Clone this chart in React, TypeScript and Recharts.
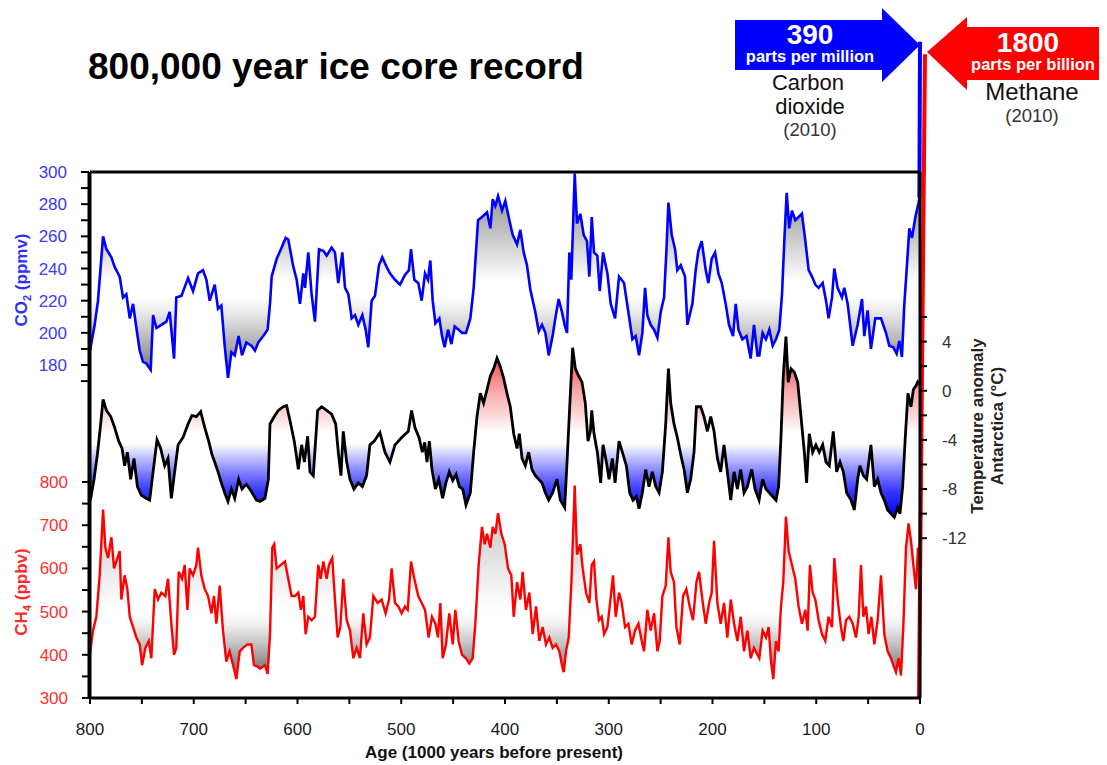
import { ComposedChart, Area, XAxis, YAxis, ReferenceLine } from 'recharts';

// [age in kyr before present, value]
const co2Record: [number, number][] = [
  [800, 189], [795.5, 205], [792.3, 220], [787.4, 260], [784.2, 252], [779.4, 247], [776.2, 241], [771.4, 235],
  [768.2, 222], [765, 224], [761.7, 209], [758.5, 218], [755.3, 203], [752.1, 189], [748.9, 182], [745.7, 181],
  [741.5, 177], [739.2, 211], [736, 203], [731.2, 205], [726.4, 207], [723.2, 213], [719, 184], [716.8, 222],
  [711.9, 223], [705.5, 234], [700.7, 226], [695.9, 237], [691.1, 239], [687.8, 233], [684.6, 220], [679.8, 230],
  [676.6, 215], [673.4, 217], [670.2, 192], [667, 172], [663.7, 188], [660.5, 186], [656.7, 198], [653.5, 186],
  [649.3, 194], [644.5, 192], [641, 189], [637.8, 194], [633, 198], [628.8, 202], [626.5, 218], [624.9, 235],
  [620.1, 246], [616, 252], [611.4, 259], [608.9, 258], [604, 241], [600.8, 233], [597.6, 218], [594.4, 237],
  [592.8, 228], [589.6, 250], [586.4, 224], [583.2, 207], [579.3, 252], [575.1, 251], [571.9, 248], [567.1, 253],
  [563.9, 250], [560.7, 231], [556.8, 250], [554.2, 228], [551, 224], [547.8, 209], [544.6, 211], [541.4, 205],
  [537.5, 211], [534.3, 202], [531.8, 191], [528.5, 220], [525.3, 223], [521.5, 242], [518.3, 247], [514.1, 241],
  [510.9, 237], [506, 233], [501.2, 230], [496.4, 236], [492.6, 239], [490.6, 252], [487.4, 233], [483.6, 231],
  [480.3, 220], [477.1, 237], [474.2, 233], [472, 245], [469.7, 220], [467.1, 206], [463.3, 209], [460.7, 198],
  [458.2, 191], [454.9, 202], [451.7, 193], [448.5, 204], [444.7, 202], [441.4, 200], [437.6, 200], [433.4, 209],
  [430.2, 228], [428, 250], [426, 270], [422.2, 272], [417.3, 275], [414.1, 265], [411.9, 283], [409.3, 279],
  [406.7, 285], [402.9, 276], [399.7, 282], [395.8, 270], [392.6, 261], [388.4, 255], [385.2, 264], [382, 250],
  [378.8, 242], [375.6, 227], [370.8, 213], [367.5, 201], [364.3, 205], [361.1, 200], [357.9, 186], [354.1, 198],
  [351.5, 209], [348.3, 221], [345.1, 213], [342.5, 205], [340.2, 200], [338, 250], [336.1, 233], [332.8, 299],
  [330.6, 268], [327.4, 274], [324.2, 261], [321, 257], [318.7, 235], [316.4, 272], [314.2, 250], [311, 248],
  [308.7, 226], [305.5, 250], [301.3, 237], [298.1, 218], [293.9, 209], [290.1, 235], [285.3, 231], [281.1, 213],
  [277.2, 196], [274, 198], [270.8, 186], [267.6, 200], [265, 228], [262.8, 211], [259.6, 205], [256.3, 202],
  [253.1, 197], [249.9, 213], [246.7, 222], [244.5, 250], [242.5, 281], [239.3, 261], [236.1, 252], [233.9, 239],
  [230.6, 242], [226.5, 235], [224.2, 205], [219.4, 218], [216.2, 239], [213.6, 251], [210.4, 257], [206.5, 239],
  [204, 231], [200.8, 246], [197.5, 250], [194.3, 237], [191.1, 231], [187.3, 218], [184.1, 205], [180.2, 198],
  [177.6, 218], [175, 202], [171.2, 196], [167.3, 198], [163.2, 184], [160, 205], [156.7, 186], [154.9, 186],
  [151.7, 200], [148.5, 196], [145.2, 202], [142, 192], [138.8, 196], [135.6, 202], [133, 224], [130.8, 257],
  [128.5, 287], [126, 265], [123.4, 276], [120.2, 270], [117, 272], [113.8, 274], [110.5, 257], [107.3, 239],
  [104.1, 235], [100.9, 230], [97.7, 228], [93.8, 231], [90.6, 220], [88.1, 209], [84.8, 222], [82.6, 240],
  [79.4, 228], [75.2, 222], [73, 228], [69.7, 218], [64.9, 192], [60.1, 205], [55.9, 221], [53.7, 198],
  [50.5, 214], [47.3, 190], [43.1, 209], [37.6, 209], [32.8, 200], [29.6, 192], [25.7, 191], [22.5, 187],
  [19.9, 195], [17.4, 185], [15.1, 218], [12.9, 239], [10.3, 265], [7.7, 259], [4.5, 272], [1.3, 281], [0.6, 284],
];

const tempRecord: [number, number][] = [
  [800, -8.9], [799.3, -8.75], [796.1, -7.2], [792.9, -5.2], [789.7, -2.7], [787.4, -0.7], [784.2, -1.6], [780, -2.1],
  [776.2, -3.0], [772.3, -4.1], [769.1, -4.7], [766.6, -6.1], [764, -5.0], [760.8, -7.2], [757.6, -5.5], [754.3, -7.8],
  [750.5, -8.5], [745.7, -8.75], [742.5, -8.9], [739.2, -6.6], [735.4, -4.0], [731.9, -4.7], [728, -6.1], [724.8, -5.5],
  [721.6, -8.75], [718.4, -6.6], [715.1, -4.4], [710.3, -3.8], [705.5, -2.7], [701.7, -2.0], [697.5, -2.1], [693.3, -1.7],
  [689.4, -3.0], [685.6, -4.1], [682.4, -5.2], [679.8, -5.8], [676.6, -6.6], [673.4, -7.5], [670.2, -8.3], [667, -9.0],
  [663.7, -8.0], [660.5, -8.75], [656.7, -7.2], [653.5, -8.0], [649.3, -7.6], [644.5, -8.2], [639.6, -8.9], [636.2, -9.0],
  [631.4, -8.75], [628.1, -7.2], [626.5, -2.7], [622.4, -2.1], [618.5, -1.6], [613.7, -1.3], [610.5, -1.2], [607.3, -2.4],
  [603.1, -4.1], [599.2, -6.4], [596, -4.4], [593.4, -5.8], [590.2, -3.7], [588, -6.6], [584.8, -6.9], [580.6, -1.6],
  [576.7, -1.3], [571.9, -1.6], [567.1, -1.9], [563.2, -2.7], [560.7, -5.0], [558.1, -6.9], [555.9, -3.3], [552.6, -5.8],
  [549.4, -7.2], [545.6, -8.0], [541.4, -7.5], [537.5, -7.8], [533.4, -6.9], [530.2, -4.4], [526, -4.1], [520.5, -3.4],
  [515.7, -5.0], [510.9, -5.8], [506, -4.4], [499.6, -3.8], [493.2, -3.3], [490, -1.6], [486.8, -3.0], [482.9, -3.8],
  [479.7, -5.0], [477.4, -4.2], [475.2, -5.8], [472.9, -4.1], [470.4, -6.4], [467.1, -8.0], [463.9, -7.2], [460.1, -8.75],
  [456.9, -7.5], [453.7, -6.6], [450.4, -7.3], [447.2, -6.8], [444, -7.8], [440.8, -8.0], [437.6, -9.3], [433.4, -8.3],
  [430.2, -5.0], [427, -2.1], [423.8, -0.2], [420.6, -1.0], [417.3, 0.1], [414.1, 1.2], [410.9, 1.8], [407.7, 2.65],
  [404.5, 1.95], [401.3, 1.0], [398.1, -0.2], [394.9, -1.3], [391.6, -3.5], [388.4, -4.7], [386.2, -3.5], [383.6, -5.5],
  [380.4, -6.1], [377.2, -5.0], [374, -6.4], [370.8, -6.9], [367.5, -7.2], [364.3, -7.5], [361.1, -8.3], [357.9, -8.9],
  [354.1, -8.3], [349.9, -7.2], [346.7, -8.9], [342.5, -9.5], [340.2, -5.8], [337, -0.2], [334.8, 3.5], [332.2, 1.8],
  [329, 1.2], [325.8, 0.7], [322.6, -1.0], [320, -4.1], [317.7, -3.3], [316.4, -1.6], [314.2, -3.5], [311, -5.0],
  [307.8, -7.5], [305.5, -4.4], [302.3, -5.8], [299.7, -7.2], [296.5, -5.5], [293.9, -7.5], [290.1, -4.1], [286.9, -5.0],
  [283, -6.1], [279.8, -8.3], [276.6, -8.9], [273.4, -8.6], [270.8, -9.6], [267.6, -8.3], [264.4, -6.4], [261.2, -7.8],
  [258, -6.6], [254.7, -7.8], [251.5, -8.3], [248.3, -6.6], [245.1, -2.7], [242.5, 1.8], [240.3, -1.0], [237.1, -2.7],
  [233.9, -3.8], [230.6, -5.2], [227.4, -6.4], [224.2, -8.3], [221, -7.2], [217.8, -5.0], [215.5, -1.3], [211.4, -1.3],
  [208.2, -2.1], [204.9, -3.3], [201.7, -2.1], [198.5, -3.3], [195.3, -5.5], [192.1, -6.6], [188.9, -4.4], [185.7, -6.6],
  [182.4, -8.9], [179.2, -6.6], [176, -8.0], [172.8, -6.4], [169.6, -8.3], [166.4, -7.8], [162.2, -6.4], [159, -8.0],
  [155.1, -8.9], [151.7, -7.2], [148.5, -8.0], [145.2, -8.3], [142, -8.6], [138.8, -8.9], [136.3, -7.8], [134, -3.8],
  [131.8, 1.2], [129.2, 4.4], [127, 0.7], [124.4, 1.8], [121.1, 1.5], [117.9, 0.7], [114.7, -2.1], [111.5, -5.0],
  [109.3, -7.5], [106.7, -3.5], [103.5, -5.0], [100.3, -4.4], [97.1, -5.0], [93.8, -4.4], [90.6, -5.8], [87.4, -6.1],
  [83.6, -3.3], [80.3, -6.6], [77.1, -5.8], [73.9, -6.6], [70.7, -8.3], [66.5, -8.9], [63.3, -9.7], [60.1, -7.2],
  [57.9, -6.1], [54.6, -6.9], [51.4, -7.2], [47.3, -4.4], [44, -7.8], [40.8, -7.2], [37.6, -8.3], [34.4, -8.9],
  [31.2, -9.7], [28, -10.0], [24.8, -10.3], [21.5, -9.5], [19.3, -10.0], [16.7, -7.8], [14.2, -3.8], [11.6, -0.2],
  [8.7, -1.3], [6.4, 0.1], [3.9, 0.4], [2.3, 0.7], [1.0, 0.5],
];

const ch4Record: [number, number][] = [
  [800, 400], [799.3, 416], [797.1, 456], [793.9, 488], [790.7, 584], [787.4, 736], [785.2, 648], [782.6, 624],
  [779.4, 672], [776.8, 600], [774.6, 616], [771.4, 640], [769.8, 528], [766.6, 584], [764, 552], [761.7, 488],
  [758.5, 464], [755.3, 440], [752.1, 424], [749.8, 376], [746.6, 416], [743.4, 432], [740.9, 392], [737.6, 552],
  [734.4, 528], [731.2, 544], [727.4, 536], [724.8, 576], [721.6, 472], [719, 400], [716.8, 416], [714.5, 592],
  [711.3, 576], [708.7, 608], [706.1, 504], [703.9, 600], [700.7, 584], [697.5, 608], [695.9, 648], [692.7, 584],
  [689.4, 552], [686.2, 536], [683, 496], [680.5, 536], [678.2, 472], [675, 560], [671.8, 456], [668.6, 384],
  [665.4, 408], [662.1, 376], [658.9, 344], [655.7, 408], [652.5, 416], [648.3, 424], [644.5, 424], [641.9, 376],
  [638, 372], [636.2, 368], [631.4, 376], [628.8, 356], [626.5, 448], [624.3, 648], [622.4, 656], [620.1, 600],
  [616, 608], [612.1, 616], [608.9, 576], [605.7, 536], [602.4, 536], [599.2, 544], [596.7, 504], [594.4, 536],
  [592.2, 448], [589.6, 488], [586.4, 480], [583.2, 488], [580, 608], [577.7, 576], [575.1, 616], [571.9, 576],
  [569.7, 608], [566.5, 624], [563.9, 528], [561.3, 440], [558.7, 464], [555.9, 576], [552.6, 480], [549.4, 456],
  [546.2, 392], [543, 416], [539.8, 392], [536.6, 496], [533.4, 424], [530.2, 440], [526.9, 536], [522.8, 520],
  [518.9, 528], [515.1, 496], [511.8, 528], [509.3, 600], [506, 520], [502.8, 512], [499.6, 496], [496.4, 512],
  [493.8, 504], [490.6, 616], [487.4, 576], [483.6, 536], [480.3, 520], [477.1, 504], [473.6, 440], [470.4, 488],
  [467.1, 472], [464.6, 440], [462.3, 520], [460.1, 392], [456.9, 424], [453.7, 496], [450.4, 424], [447.9, 504],
  [444.7, 432], [441.4, 400], [437.6, 392], [434.4, 380], [431.2, 392], [428.6, 472], [425.4, 608], [422.2, 696],
  [419.6, 656], [417.3, 680], [414.1, 648], [411.9, 696], [409.3, 680], [406.7, 728], [403.5, 680], [400.3, 656],
  [397.1, 600], [393.9, 584], [391.6, 488], [388.4, 568], [385.2, 528], [383, 592], [379.8, 504], [376.5, 544],
  [373.3, 448], [370.1, 512], [366.9, 432], [363.7, 464], [360.5, 424], [357.3, 440], [354.1, 416], [350.8, 424],
  [347.6, 408], [345.1, 376], [343.4, 360], [341.2, 408], [338.6, 440], [336, 568], [332.8, 792], [330.6, 632],
  [327.4, 656], [325.1, 600], [321.9, 544], [318.7, 520], [316.4, 608], [314.2, 616], [311.9, 528], [309.4, 480],
  [306.8, 488], [304.5, 448], [301.3, 464], [299.1, 512], [295.9, 584], [293.3, 488], [290.1, 544], [287.5, 520],
  [284.3, 464], [281.1, 472], [277.9, 424], [274.7, 456], [271.4, 472], [268.2, 432], [266, 408], [262.8, 504],
  [259.6, 456], [256.3, 496], [253.1, 408], [250.9, 432], [248.3, 536], [245.1, 560], [242.5, 672], [240.3, 592],
  [237.1, 568], [234.8, 464], [231.6, 424], [228.4, 536], [225.2, 552], [222, 512], [218.8, 480], [215.5, 568],
  [213, 592], [209.8, 528], [206.5, 472], [203.3, 520], [200.8, 544], [198.5, 664], [195.3, 520], [192.1, 472],
  [188.9, 520], [185.7, 440], [182.4, 528], [179.2, 472], [176, 432], [172.8, 488], [169.6, 408], [166.4, 456],
  [163.2, 392], [160, 416], [156.7, 400], [154.9, 392], [151.7, 456], [148.5, 440], [145.9, 464], [143.6, 384],
  [141.4, 344], [138.8, 432], [136.3, 408], [134, 512], [131.8, 568], [129.2, 720], [126.6, 640], [123.4, 608],
  [120.2, 576], [117, 512], [113.8, 472], [110.5, 504], [108.3, 456], [106.1, 608], [103.5, 544], [100.9, 528],
  [97.7, 480], [94.5, 448], [91.3, 432], [88.1, 488], [84.8, 464], [82.6, 624], [79.4, 528], [76.2, 464],
  [73.9, 432], [71.3, 480], [68.1, 488], [64.9, 472], [61.7, 440], [59.1, 488], [56.9, 608], [54.6, 488],
  [52.1, 512], [49.5, 448], [46.9, 488], [44, 424], [40.8, 480], [37.6, 584], [34.4, 448], [31.2, 408],
  [28, 392], [25.7, 376], [23.2, 360], [20.6, 392], [18.3, 352], [16.1, 464], [13.5, 648], [11, 704],
  [8.7, 664], [6.4, 608], [3.9, 552], [1.9, 648],
];

// modern rise up to the 2010 arrows
const co2Modern: [number, number][] = [[0.6, 284], [0, 381]];
const ch4Modern: [number, number][] = [[1, 300], [-4.8, 1790]];

const ageTicks = [0, 50, 100, 150, 200, 250, 300, 350, 400, 450, 500, 550, 600, 650, 700, 750, 800];
const ageLabels = [0, 100, 200, 300, 400, 500, 600, 700, 800];
const co2Ticks = [170, 180, 190, 200, 210, 220, 230, 240, 250, 260, 270, 280, 290, 300];
const co2Labels = [180, 200, 220, 240, 260, 280, 300];
const ch4Ticks = [300, 350, 400, 450, 500, 550, 600, 650, 700, 750, 800];
const ch4Labels = [300, 400, 500, 600, 700, 800];
const tempTicks = [-12, -10, -8, -6, -4, -2, 0, 2, 4, 6];
const tempLabels = [-12, -8, -4, 0, 4];

const co2Base = 228;
const tempBase = -4;
const ch4Base = 500;

const co2Shade: [number, string][] = [
  [300, '#8a8a8a'], [280, '#a2a2a2'], [260, '#c6c6c6'], [242, '#ebebeb'], [232, '#ffffff'],
  [222, '#ffffff'], [210, '#e2e2e2'], [195, '#b4b4b4'], [180, '#858585'], [170, '#6c6c6c'],
];
const tempShade: [number, string][] = [
  [4.5, '#ff2b2b'], [2, '#f46464'], [0, '#f8a8a8'], [-2, '#fcd8d8'], [-3.4, '#ffffff'],
  [-4.3, '#ffffff'], [-5.3, '#c8c8ff'], [-6.8, '#7878ff'], [-8.2, '#3535ff'], [-10.5, '#0000f0'],
];
const ch4Shade: [number, string][] = [
  [800, '#b8b8b8'], [700, '#cdcdcd'], [600, '#e8e8e8'], [520, '#fcfcfc'], [500, '#ffffff'],
  [470, '#f0f0f0'], [430, '#c8c8c8'], [390, '#989898'], [345, '#5c5c5c'],
];

const FONT = '"Liberation Sans", Arial, Helvetica, sans-serif';

const rows = (rec: [number, number][]) => rec.map(([age, v]) => ({ age, v }));

function Shade({ id, rec, base, stops }: { id: string; rec: [number, number][]; base: number; stops: [number, string][] }) {
  const vals = rec.map((r) => r[1]).concat(base);
  const hi = Math.max(...vals);
  const lo = Math.min(...vals);
  return (
    <linearGradient id={id} x1="0" y1="0" x2="0" y2="1">
      {stops.map(([v, c]) => (
        <stop key={v} offset={Math.min(1, Math.max(0, (hi - v) / (hi - lo)))} stopColor={c} />
      ))}
    </linearGradient>
  );
}

const axisLine = { stroke: '#000', strokeWidth: 3 };
const tickLine = { stroke: '#000', strokeWidth: 2 };

export default function App() {
  return (
    <div style={{ position: 'relative', width: 1091, height: 757 }}>
      <ComposedChart width={1091} height={749} margin={{ top: 163, right: 178, bottom: 29, left: 80 }}>
        <defs>
          <Shade id="co2Fill" rec={co2Record} base={co2Base} stops={co2Shade} />
          <Shade id="tempFill" rec={tempRecord} base={tempBase} stops={tempShade} />
          <Shade id="ch4Fill" rec={ch4Record} base={ch4Base} stops={ch4Shade} />
        </defs>
        <XAxis
          xAxisId="age"
          dataKey="age"
          type="number"
          domain={[0, 800]}
          reversed
          ticks={ageTicks}
          tickFormatter={(v: number) => (ageLabels.includes(v) ? String(v) : '')}
          tickSize={6}
          tickMargin={19}
          height={30}
          axisLine={axisLine}
          tickLine={tickLine}
          tick={{ fill: '#1a1a1a', fontSize: 17, fontFamily: FONT }}
        />
        <XAxis
          xAxisId="top"
          orientation="top"
          type="number"
          domain={[0, 800]}
          reversed
          ticks={ageTicks}
          tickFormatter={() => ''}
          tickSize={6}
          height={1}
          axisLine={axisLine}
          tickLine={tickLine}
        />
        <YAxis
          yAxisId="co2"
          orientation="left"
          type="number"
          domain={[-27, 300]}
          ticks={co2Ticks}
          tickFormatter={(v: number) => (co2Labels.includes(v) ? String(v) : '')}
          width={1}
          tickSize={8}
          tickMargin={14}
          axisLine={axisLine}
          tickLine={tickLine}
          tick={{ fill: '#3a3aff', fontSize: 17, fontFamily: FONT }}
        />
        <YAxis
          yAxisId="ch4"
          orientation="left"
          type="number"
          domain={[300, 1517.6]}
          ticks={ch4Ticks}
          tickFormatter={(v: number) => (ch4Labels.includes(v) ? String(v) : '')}
          width={1}
          tickSize={8}
          tickMargin={14}
          axisLine={axisLine}
          tickLine={tickLine}
          tick={{ fill: '#ff3030', fontSize: 17, fontFamily: FONT }}
        />
        <YAxis
          yAxisId="temp"
          orientation="right"
          type="number"
          domain={[-25, 17.8]}
          ticks={tempTicks}
          tickFormatter={(v: number) => (tempLabels.includes(v) ? String(v) : '')}
          width={1}
          tickSize={7}
          tickMargin={15}
          axisLine={axisLine}
          tickLine={tickLine}
          tick={{ fill: '#333', fontSize: 17, fontFamily: FONT }}
        />

        <Area
          data={rows(co2Record)}
          xAxisId="age"
          yAxisId="co2"
          dataKey="v"
          type="linear"
          baseValue={co2Base}
          stroke="#0000ff"
          strokeWidth={2.6}
          fill="url(#co2Fill)"
          fillOpacity={1}
          dot={false}
          activeDot={false}
          isAnimationActive={false}
        />
        <Area
          data={rows(tempRecord)}
          xAxisId="age"
          yAxisId="temp"
          dataKey="v"
          type="linear"
          baseValue={tempBase}
          stroke="#000"
          strokeWidth={2.8}
          fill="url(#tempFill)"
          fillOpacity={1}
          dot={false}
          activeDot={false}
          isAnimationActive={false}
        />
        <Area
          data={rows(ch4Record)}
          xAxisId="age"
          yAxisId="ch4"
          dataKey="v"
          type="linear"
          baseValue={ch4Base}
          stroke="#ff0000"
          strokeWidth={2.4}
          fill="url(#ch4Fill)"
          fillOpacity={1}
          dot={false}
          activeDot={false}
          isAnimationActive={false}
        />
        <ReferenceLine
          xAxisId="age"
          yAxisId="co2"
          segment={co2Modern.map(([x, y]) => ({ x, y }))}
          ifOverflow="visible"
          stroke="#0000ff"
          strokeWidth={4}
        />
        <ReferenceLine
          xAxisId="age"
          yAxisId="ch4"
          segment={ch4Modern.map(([x, y]) => ({ x, y }))}
          ifOverflow="visible"
          stroke="#ff0000"
          strokeWidth={4}
        />
      </ComposedChart>

      <svg
        width={1107}
        height={765}
        style={{ position: 'absolute', left: -8, top: -8, overflow: 'visible', pointerEvents: 'none' }}
        fontFamily={FONT}
      >
        <text x={88} y={79} fontSize={37} fontWeight="bold" fill="#000">800,000 year ice core record</text>

        <text transform="translate(27,280) rotate(-90)" textAnchor="middle" fontSize={17} fontWeight="bold" fill="#2f2fff">
          CO<tspan fontSize={11} dy={4}>2</tspan><tspan dy={-4}> (ppmv)</tspan>
        </text>
        <text transform="translate(27,592) rotate(-90)" textAnchor="middle" fontSize={17} fontWeight="bold" fill="#ff2a2a">
          CH<tspan fontSize={11} dy={4}>4</tspan><tspan dy={-4}> (ppbv)</tspan>
        </text>
        <text transform="translate(983,426) rotate(-90)" textAnchor="middle" fontSize={17} fontWeight="bold" fill="#222">
          Temperature anomaly
        </text>
        <text transform="translate(1003,426) rotate(-90)" textAnchor="middle" fontSize={17} fontWeight="bold" fill="#222">
          Antarctica (°C)
        </text>
        <text x={494} y={758} textAnchor="middle" fontSize={17} fontWeight="bold" fill="#111">
          Age (1000 years before present)
        </text>

        <polygon points="735,20 882,20 882,8 920,45 882,82 882,70 735,70" fill="#0000ff" />
        <text x={810} y={44} textAnchor="middle" fontSize={28} fontWeight="bold" fill="#fff">390</text>
        <text x={810} y={62} textAnchor="middle" fontSize={16.5} fontWeight="bold" fill="#fff">parts per million</text>
        <text x={808} y={90} textAnchor="middle" fontSize={22} fill="#111">Carbon</text>
        <text x={810} y={114} textAnchor="middle" fontSize={22} fill="#111">dioxide</text>
        <text x={810} y={136} textAnchor="middle" fontSize={18.5} fill="#333">(2010)</text>

        <polygon points="1107,27 967,27 967,17 927,52 967,90 967,80 1107,80" fill="#ff0000" />
        <text x={1028} y={52} textAnchor="middle" fontSize={28} fontWeight="bold" fill="#fff">1800</text>
        <text x={1033} y={70} textAnchor="middle" fontSize={16.5} fontWeight="bold" fill="#fff">parts per billion</text>
        <text x={1032} y={100} textAnchor="middle" fontSize={24} fill="#111">Methane</text>
        <text x={1032} y={122} textAnchor="middle" fontSize={18.5} fill="#333">(2010)</text>
      </svg>
    </div>
  );
}
